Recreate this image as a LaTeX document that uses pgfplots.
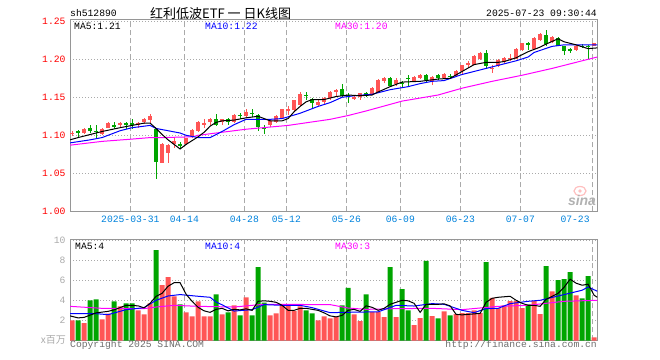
\documentclass[border=0pt]{standalone}
\usepackage{pgfplots}
\usepackage{pgfplotstable}
\pgfplotsset{compat=1.18}
\usepackage{fontspec}
\setmainfont{Liberation Mono}
\newfontfamily\cjk{Noto Sans CJK SC}
\newfontfamily\sinafont{Liberation Sans}
\definecolor{cred}{RGB}{255,85,85}
\definecolor{cgreen}{RGB}{0,165,0}
\definecolor{cblue}{RGB}{0,0,255}
\definecolor{cmag}{RGB}{255,0,255}
\definecolor{dateblue}{RGB}{0,130,220}
\definecolor{gridgray}{RGB}{170,170,170}
\definecolor{bordergray}{RGB}{150,150,150}
\definecolor{txtgray}{RGB}{110,110,110}
\definecolor{lightgray}{RGB}{170,170,170}

\pgfplotstableread{
i o h l c
0 1.102 1.106 1.099 1.103
2 1.103 1.109 1.102 1.108
5 1.102 1.109 1.100 1.108
6 1.110 1.117 1.109 1.116
8 1.113 1.118 1.111 1.116
11 1.113 1.118 1.110 1.116
12 1.117 1.123 1.115 1.121
13 1.120 1.128 1.116 1.126
15 1.064 1.090 1.063 1.089
16 1.077 1.089 1.064 1.087
17 1.088 1.096 1.083 1.092
19 1.089 1.097 1.087 1.096
20 1.098 1.108 1.097 1.107
21 1.105 1.119 1.104 1.118
22 1.115 1.121 1.110 1.116
23 1.117 1.123 1.114 1.121
25 1.118 1.122 1.113 1.121
27 1.117 1.128 1.116 1.127
29 1.125 1.134 1.123 1.131
33 1.113 1.120 1.111 1.119
34 1.118 1.127 1.116 1.126
35 1.123 1.135 1.122 1.134
36 1.133 1.138 1.127 1.134
37 1.133 1.147 1.132 1.146
38 1.140 1.157 1.139 1.154
41 1.140 1.146 1.138 1.144
42 1.144 1.151 1.140 1.149
43 1.149 1.158 1.147 1.157
44 1.157 1.161 1.151 1.160
47 1.149 1.153 1.146 1.150
48 1.150 1.156 1.146 1.155
50 1.154 1.163 1.153 1.162
51 1.157 1.174 1.156 1.173
52 1.171 1.177 1.169 1.176
54 1.168 1.175 1.165 1.173
57 1.171 1.178 1.170 1.177
58 1.175 1.180 1.174 1.179
60 1.171 1.178 1.166 1.177
62 1.175 1.182 1.174 1.181
64 1.178 1.186 1.177 1.185
65 1.184 1.193 1.181 1.192
66 1.192 1.198 1.189 1.195
67 1.193 1.205 1.192 1.204
68 1.200 1.209 1.199 1.208
70 1.188 1.192 1.182 1.189
71 1.191 1.200 1.190 1.199
72 1.197 1.203 1.195 1.202
73 1.201 1.207 1.198 1.202
74 1.201 1.215 1.200 1.214
75 1.212 1.222 1.211 1.221
77 1.214 1.229 1.213 1.228
78 1.225 1.234 1.224 1.233
80 1.223 1.231 1.221 1.229
84 1.212 1.219 1.211 1.218
87 1.218 1.222 1.218 1.221
}\redc

\pgfplotstableread{
i o h l c
1 1.106 1.107 1.098 1.103
3 1.109 1.113 1.103 1.106
4 1.106 1.113 1.096 1.105
7 1.113 1.117 1.108 1.112
9 1.116 1.117 1.108 1.114
10 1.116 1.121 1.108 1.115
14 1.108 1.109 1.042 1.065
18 1.088 1.091 1.082 1.087
24 1.121 1.128 1.112 1.114
26 1.122 1.123 1.113 1.118
28 1.127 1.129 1.122 1.126
30 1.130 1.135 1.124 1.129
31 1.127 1.128 1.106 1.111
32 1.110 1.113 1.102 1.109
39 1.153 1.157 1.147 1.152
40 1.148 1.149 1.136 1.142
45 1.161 1.167 1.151 1.152
46 1.153 1.155 1.143 1.150
49 1.156 1.157 1.150 1.153
53 1.176 1.177 1.163 1.165
55 1.169 1.172 1.162 1.168
56 1.176 1.179 1.164 1.175
59 1.179 1.181 1.170 1.173
61 1.179 1.180 1.173 1.175
63 1.178 1.181 1.174 1.177
69 1.208 1.212 1.188 1.191
76 1.221 1.223 1.212 1.220
79 1.232 1.238 1.218 1.220
81 1.228 1.229 1.217 1.218
82 1.217 1.218 1.205 1.211
83 1.213 1.215 1.208 1.212
85 1.218 1.220 1.215 1.217
86 1.218 1.219 1.200 1.217
}\greenc

\pgfplotstableread{
i v
0 2.0
2 1.73
5 2.1
6 2.67
8 3.4
11 3.0
12 2.6
13 3.7
15 5.5
16 6.3
17 4.4
19 2.8
20 2.4
21 3.9
22 2.4
23 2.4
25 2.6
27 3.5
29 4.3
33 2.5
34 2.7
35 3.5
36 3.5
37 2.93
38 3.4
41 2.0
42 2.4
43 2.2
44 2.33
47 2.6
48 1.93
50 2.83
51 2.83
52 2.33
54 2.33
57 1.53
58 2.23
60 2.43
62 2.9
64 2.63
65 2.73
66 2.73
67 3.0
68 2.73
70 4.23
71 3.23
72 3.5
73 3.93
74 3.93
75 3.23
77 3.93
78 2.63
80 4.9
84 4.5
87 0.3
}\redv

\pgfplotstableread{
i v
1 2.0
3 4.0
4 4.1
7 3.9
9 3.7
10 3.7
14 9.0
18 3.6
24 4.6
26 2.8
28 2.5
30 2.5
31 7.3
32 3.77
39 3.0
40 2.7
45 3.5
46 5.23
49 4.6
53 7.3
55 5.1
56 3.0
59 7.93
61 2.2
63 2.5
69 7.8
76 3.6
79 7.4
81 6.0
82 6.1
83 6.8
85 4.2
86 6.4
}\greenv

\newcommand{\sfs}{\fontsize{9.7bp}{11bp}\selectfont}

\begin{document}
\begin{tikzpicture}
\path[use as bounding box] (0bp,0bp) rectangle (660bp,360bp);

% ---------------- price panel ----------------
\begin{axis}[
  at={(70bp,148.7bp)}, anchor=south west,
  width=527.3bp, height=191.3bp, scale only axis,
  xmin=-0.35, xmax=87.53, ymin=1.0, ymax=1.2517,
  axis line style={draw=bordergray, line width=1bp},
  tick style={draw=none}, major tick length=0pt,
  xtick={9.7,18.7,28.7,35.7,45.7,54.7,64.7,74.7,86.7},
  xticklabels={2025-03-31,04-14,04-28,05-12,05-26,06-09,06-23,07-07,\makebox[0pt][r]{07-23\hspace{2.7bp}}},
  xticklabel style={font=\sfs, text=dateblue, inner sep=0pt, anchor=north, yshift=-5bp},
  ytick={1.00,1.05,1.10,1.15,1.20,1.25},
  yticklabels={1.00,1.05,1.10,1.15,1.20,1.25},
  yticklabel style={font=\sfs, text=red, inner sep=0pt, anchor=east, xshift=-4.3bp},
  xmajorgrids, ymajorgrids,
  x grid style={draw=gridgray, line width=0.8bp, dash pattern=on 5bp off 3bp},
  y grid style={draw=gridgray, line width=0.8bp, dash pattern=on 1bp off 2bp},
  clip=true,
]
% red candles
\addplot[draw=none, mark=none, forget plot,
  error bars/.cd, y dir=both, y explicit, error mark=none,
  error bar style={draw=cred, line width=1bp, solid}]
  table[x=i, y expr={(\thisrow{h}+\thisrow{l})/2}, y error expr={(\thisrow{h}-\thisrow{l})/2}] {\redc};
\addplot[draw=none, mark=none, forget plot,
  error bars/.cd, y dir=both, y explicit, error mark=none,
  error bar style={draw=cred, line width=4.6bp, solid, line cap=butt}]
  table[x=i, y expr={(\thisrow{o}+\thisrow{c})/2}, y error expr={max(abs(\thisrow{c}-\thisrow{o})/2,0.0004)}] {\redc};
% green candles
\addplot[draw=none, mark=none, forget plot,
  error bars/.cd, y dir=both, y explicit, error mark=none,
  error bar style={draw=cgreen, line width=1bp, solid}]
  table[x=i, y expr={(\thisrow{h}+\thisrow{l})/2}, y error expr={(\thisrow{h}-\thisrow{l})/2}] {\greenc};
\addplot[draw=none, mark=none, forget plot,
  error bars/.cd, y dir=both, y explicit, error mark=none,
  error bar style={draw=cgreen, line width=4.6bp, solid, line cap=butt}]
  table[x=i, y expr={(\thisrow{o}+\thisrow{c})/2}, y error expr={max(abs(\thisrow{c}-\thisrow{o})/2,0.0004)}] {\greenc};
% MA30
\addplot[cmag, line width=1bp, mark=none] coordinates {
(-0.35,1.087) (5,1.092) (10,1.095) (13,1.097) (15,1.097) (20,1.098) (21,1.100) (25,1.104) (29,1.108)
(36,1.113) (43,1.121) (46,1.126) (49,1.132) (55,1.145) (61,1.153) (65,1.162) (70,1.171)
(75,1.179) (80,1.188) (84,1.196) (87.53,1.203)};
% MA10
\addplot[cblue, line width=1bp, mark=none] coordinates {
(-0.35,1.090) (3,1.094) (5,1.097) (8,1.106) (10,1.110) (13,1.113) (14,1.109) (16,1.106)
(18,1.103) (19,1.100) (21,1.097) (23,1.097) (25,1.105) (27,1.114) (29,1.121) (31,1.121)
(33,1.121) (35,1.122) (38,1.129) (41,1.138) (43,1.143) (45,1.150) (47,1.152) (50,1.154)
(53,1.160) (56,1.164) (58,1.168) (60,1.171) (62,1.172) (65,1.180) (68,1.186) (71,1.192)
(74,1.198) (76,1.203) (77,1.209) (80,1.217) (82,1.219) (87.53,1.219)};
% MA5
\addplot[black, line width=1bp, mark=none] coordinates {
(-0.35,1.094) (1,1.097) (3,1.101) (5,1.105) (8,1.110) (10,1.113) (12,1.116) (13,1.116)
(14,1.109) (15,1.101) (16,1.094) (17,1.088) (18,1.082) (19,1.088) (20,1.093) (21,1.098)
(22,1.104) (23,1.112) (24,1.117) (25,1.119) (27,1.120) (29,1.123) (31,1.125) (32,1.122)
(33,1.119) (35,1.119) (36,1.122) (37,1.131) (38,1.138) (39,1.144) (40,1.147) (42,1.147)
(44,1.151) (46,1.153) (48,1.152) (50,1.153) (51,1.157) (53,1.164) (55,1.170) (58,1.171)
(60,1.173) (61,1.174) (63,1.175) (65,1.184) (67,1.193) (69,1.196) (71,1.196) (72,1.197)
(74,1.202) (76,1.210) (78,1.216) (79,1.220) (81,1.227) (82,1.223) (84,1.219) (86,1.214)
(87.53,1.215)};
\end{axis}

% ---------------- volume panel ----------------
\begin{axis}[
  at={(70bp,19.5bp)}, anchor=south west,
  width=527.3bp, height=100.5bp, scale only axis,
  xmin=-0.35, xmax=87.53, ymin=0, ymax=10,
  axis line style={draw=bordergray, line width=1bp},
  tick style={draw=none}, major tick length=0pt,
  xtick={9.7,18.7,28.7,35.7,45.7,54.7,64.7,74.7,86.7},
  xticklabels={},
  ytick={2,4,6,8,10},
  yticklabels={2,4,6,8,10},
  yticklabel style={font=\sfs, text=lightgray, inner sep=0pt, anchor=east, xshift=-4.3bp},
  xmajorgrids, ymajorgrids,
  x grid style={draw=gridgray, line width=0.8bp, dash pattern=on 5bp off 3bp},
  y grid style={draw=gridgray, line width=0.8bp, dash pattern=on 1bp off 2bp},
]
\addplot[ybar, bar width=5bp, bar shift=0pt, fill=cred, draw=none] table[x=i, y=v] {\redv};
\addplot[ybar, bar width=5bp, bar shift=0pt, fill=cgreen, draw=none] table[x=i, y=v] {\greenv};
% vol MA30
\addplot[cmag, line width=1bp, mark=none] coordinates {
(-0.35,3.4) (5,3.2) (12,3.17) (14,3.33) (17,3.5) (21,3.4) (27,3.33) (30,3.5) (32,3.6)
(43,3.57) (46,3.23) (49,3.1) (54,3.17) (60,3.2) (65,3.07) (71,3.4) (76,3.5) (82,3.9) (87.53,4.0)};
% vol MA10
\addplot[cblue, line width=1bp, mark=none] coordinates {
(-0.35,2.67) (4,2.67) (6,2.57) (9,3.07) (12,3.27) (14,4.0) (16,4.43) (18,4.57) (21,4.4)
(23,4.3) (24,3.83) (25,3.55) (27,2.93) (30,3.07) (32,3.57) (35,3.5) (38,3.5) (40,3.27)
(43,2.77) (48,2.83) (51,2.85) (54,3.5) (57,3.43) (60,3.67) (62,3.6) (65,3.0) (67,2.77)
(69,3.17) (71,3.2) (73,3.67) (76,3.9) (78,4.0) (82,4.57) (85,5.0) (86,5.33) (87.53,4.9)};
% vol MA5
\addplot[black, line width=1bp, mark=none] coordinates {
(-0.35,2.45) (1,2.25) (2,2.3) (4,2.75) (6,2.9) (7,3.05) (9,3.5) (11,3.45) (12,3.25)
(13,3.7) (14,4.4) (15,4.7) (16,5.4) (17,5.75) (18,5.75) (19,4.6) (20,3.9) (21,3.3)
(22,2.95) (23,2.8) (24,3.1) (25,3.2) (26,2.95) (27,3.1) (28,3.05) (29,3.15) (30,3.0)
(31,3.9) (32,3.95) (33,3.9) (34,3.8) (35,3.5) (36,3.0) (37,3.0) (38,3.2) (39,3.2)
(40,3.1) (41,3.0) (42,2.75) (43,2.45) (44,2.35) (45,2.5) (46,3.0) (47,3.1) (48,2.9)
(49,3.45) (50,3.3) (51,3.0) (52,3.2) (53,3.6) (54,3.8) (55,4.0) (56,3.95) (57,3.7)
(58,2.8) (59,3.6) (60,3.6) (61,3.6) (62,3.65) (63,3.45) (64,2.6) (65,2.55) (66,2.6)
(67,2.65) (68,2.7) (69,3.8) (70,4.2) (71,4.3) (72,4.35) (73,4.4) (74,4.0) (75,3.7)
(76,3.5) (77,3.5) (78,3.4) (79,4.1) (80,4.4) (81,4.7) (82,5.3) (83,6.1) (84,5.7)
(85,5.5) (86,5.6) (87,4.5) (87.53,4.3)};
\end{axis}

% ---------------- texts ----------------
\node[anchor=west, inner sep=0pt, font=\sfs] at (70bp,346.7bp) {sh512890};
\node[anchor=west, inner sep=0pt] at (150bp,346.7bp) {\cjk\fontsize{13bp}{15bp}\selectfont 红利低波ETF 一 日K线图};
\node[anchor=east, inner sep=0pt, font=\sfs] at (597bp,346.7bp) {2025-07-23 09:30:44};

\node[anchor=west, inner sep=0pt, font=\sfs] at (74bp,334bp) {MA5:1.21};
\node[anchor=west, inner sep=0pt, font=\sfs, text=cblue] at (205bp,334bp) {MA10:1.22};
\node[anchor=west, inner sep=0pt, font=\sfs, text=cmag] at (335bp,334bp) {MA30:1.20};

\node[anchor=west, inner sep=0pt, font=\sfs] at (75bp,113.3bp) {MA5:4};
\node[anchor=west, inner sep=0pt, font=\sfs, text=cblue] at (205bp,113.3bp) {MA10:4};
\node[anchor=west, inner sep=0pt, font=\sfs, text=cmag] at (335bp,113.3bp) {MA30:3};

\node[anchor=east, inner sep=0pt, text=lightgray] at (66bp,20bp) {\cjk\fontsize{10bp}{12bp}\selectfont x百万};
\node[anchor=west, inner sep=0pt, font=\sfs, text=txtgray] at (70bp,15bp) {Copyright 2025 SINA.COM};
\node[anchor=east, inner sep=0pt, font=\sfs, text=txtgray] at (597bp,15bp) {http://finance.sina.com.cn};

% sina watermark
\draw[red!25, line width=1.2bp] (580bp,169bp) ellipse (6bp and 4.5bp);
\fill[red!25] (580bp,169bp) circle (1.8bp);
\node[inner sep=0pt, text=black!30] at (582bp,160bp) {\sinafont\bfseries\itshape\fontsize{14bp}{16bp}\selectfont sina};
\end{tikzpicture}
\end{document}
